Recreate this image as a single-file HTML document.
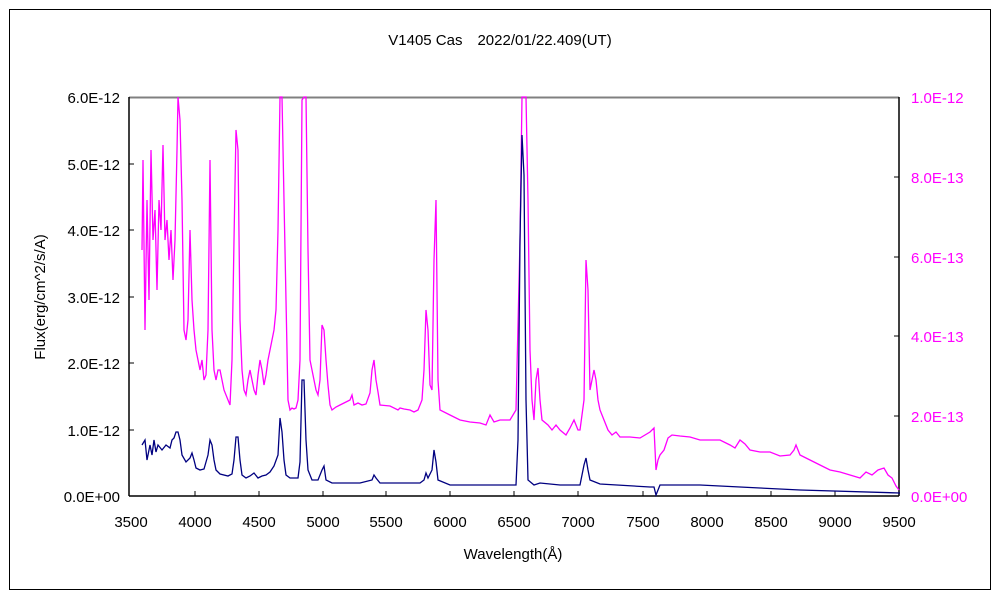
<!DOCTYPE html><html><head><meta charset="utf-8"><style>body{margin:0;background:#fff}svg{display:block}text{font-family:"Liberation Sans","Noto Sans CJK JP",sans-serif;font-size:15px}</style></head><body>
<svg width="1000" height="600" viewBox="0 0 1000 600">
<rect x="9.5" y="9.5" width="981" height="580" fill="#fff" stroke="#000"/>
<text x="500" y="45" text-anchor="middle">V1405 Cas　2022/01/22.409(UT)</text>
<line x1="129" y1="97.5" x2="899" y2="97.5" stroke="#808080" stroke-width="2"/>
<line x1="129" y1="97" x2="129" y2="496" stroke="#000" stroke-width="1.5"/>
<line x1="899" y1="97" x2="899" y2="496" stroke="#000" stroke-width="1.5"/>
<line x1="129" y1="496" x2="899" y2="496" stroke="#000" stroke-width="1.5"/>
<g stroke="#000">
<line x1="129" y1="430" x2="134" y2="430"/><line x1="129" y1="363" x2="134" y2="363"/><line x1="129" y1="297" x2="134" y2="297"/><line x1="129" y1="230" x2="134" y2="230"/><line x1="129" y1="164" x2="134" y2="164"/>
<line x1="899" y1="416" x2="894" y2="416"/><line x1="899" y1="336" x2="894" y2="336"/><line x1="899" y1="257" x2="894" y2="257"/><line x1="899" y1="177" x2="894" y2="177"/>
<line x1="195" y1="496" x2="195" y2="491"/><line x1="259" y1="496" x2="259" y2="491"/><line x1="323" y1="496" x2="323" y2="491"/><line x1="386" y1="496" x2="386" y2="491"/><line x1="450" y1="496" x2="450" y2="491"/><line x1="514" y1="496" x2="514" y2="491"/><line x1="578" y1="496" x2="578" y2="491"/><line x1="643" y1="496" x2="643" y2="491"/><line x1="707" y1="496" x2="707" y2="491"/><line x1="771" y1="496" x2="771" y2="491"/><line x1="835" y1="496" x2="835" y2="491"/>
</g>
<g text-anchor="end">
<text x="120" y="502">0.0E+00</text><text x="120" y="436">1.0E-12</text><text x="120" y="369">2.0E-12</text><text x="120" y="303">3.0E-12</text><text x="120" y="236">4.0E-12</text><text x="120" y="170">5.0E-12</text><text x="120" y="103">6.0E-12</text>
</g>
<g fill="#ff00ff">
<text x="911" y="502">0.0E+00</text><text x="911" y="422">2.0E-13</text><text x="911" y="342">4.0E-13</text><text x="911" y="263">6.0E-13</text><text x="911" y="183">8.0E-13</text><text x="911" y="103">1.0E-12</text>
</g>
<g text-anchor="middle">
<text x="131" y="527">3500</text><text x="195" y="527">4000</text><text x="259" y="527">4500</text><text x="323" y="527">5000</text><text x="386" y="527">5500</text><text x="450" y="527">6000</text><text x="514" y="527">6500</text><text x="578" y="527">7000</text><text x="643" y="527">7500</text><text x="707" y="527">8000</text><text x="771" y="527">8500</text><text x="835" y="527">9000</text><text x="899" y="527">9500</text>
<text x="513" y="559">Wavelength(Å)</text>
<text transform="translate(45,297) rotate(-90)">Flux(erg/cm^2/s/A)</text>
</g>
<polyline fill="none" stroke="#ff00ff" stroke-width="1.3" points="142,250 143,160 145,330 147,200 149,300 151,150 153,240 155,210 157,290 159,200 161,230 163,145 165,240 167,220 169,260 171,230 173,280 175,240 177,150 178,97 180,120 182,200 184,330 186,340 188,320 190,230 192,300 194,330 196,350 198,360 200,370 202,360 204,380 206,375 208,330 210,160 212,330 214,370 216,380 218,370 220,370 224,390 228,400 230,405 232,360 234,240 236,130 238,150 240,320 242,370 244,390 246,395 248,380 250,370 252,380 254,390 256,395 258,375 260,360 262,370 264,385 266,375 268,360 272,340 274,330 276,310 278,230 280,97 282,97 284,200 286,300 288,400 290,410 292,408 294,409 296,408 298,400 300,360 302,100 304,97 306,97 308,250 310,360 312,370 314,380 316,390 318,395 320,380 322,325 324,330 326,360 328,385 330,405 332,410 336,407 340,405 344,403 350,400 352,395 354,405 358,403 362,405 366,404 370,393 372,370 374,360 376,380 378,392 380,405 390,406 398,410 400,408 404,409 410,410 414,412 418,410 422,400 424,370 426,310 428,330 430,385 432,390 434,260 436,200 438,380 440,410 450,415 460,420 470,422 480,423 486,425 490,415 494,422 500,420 510,420 516,410 520,240 522,97 524,97 526,97 528,200 530,350 532,400 534,420 536,380 538,368 540,400 542,420 548,425 552,430 556,425 560,430 566,435 570,428 574,420 578,430 580,430 584,400 586,260 588,290 590,390 592,380 594,370 596,380 598,400 600,410 604,420 608,430 612,435 616,432 620,437 630,437 640,438 650,432 654,428 656,470 658,460 660,455 664,450 668,438 672,435 680,436 690,437 700,440 720,440 730,445 735,448 740,440 745,444 750,450 760,452 770,452 780,456 790,455 794,450 796,445 800,455 810,460 820,465 830,470 840,472 850,475 860,478 866,472 872,475 878,470 884,468 888,475 892,478 896,486 899,490"/>
<polyline fill="none" stroke="#000080" stroke-width="1.3" points="142,445 145,440 147,460 150,445 152,455 154,440 156,452 158,445 162,450 166,445 170,448 172,440 174,438 176,432 178,432 180,440 182,455 186,462 190,458 192,453 194,460 196,468 200,470 204,469 206,462 208,455 210,440 212,445 214,460 216,470 220,474 228,476 232,474 234,460 236,437 238,437 240,460 242,475 246,478 250,476 254,473 258,478 262,476 266,475 270,472 274,466 278,455 280,418 282,432 284,460 286,475 290,478 298,478 300,462 302,380 304,380 306,440 308,470 312,480 318,480 322,470 324,466 326,480 332,483 340,483 360,483 372,480 374,475 376,478 380,483 420,483 424,480 426,473 428,478 432,470 434,450 436,462 438,480 450,485 500,485 516,485 518,440 520,240 522,135 524,175 526,400 528,480 534,485 540,483 560,485 580,485 584,465 586,458 588,470 590,480 600,484 650,487 654,487 656,495 660,485 700,485 760,488 800,490 900,493"/>
</svg></body></html>
